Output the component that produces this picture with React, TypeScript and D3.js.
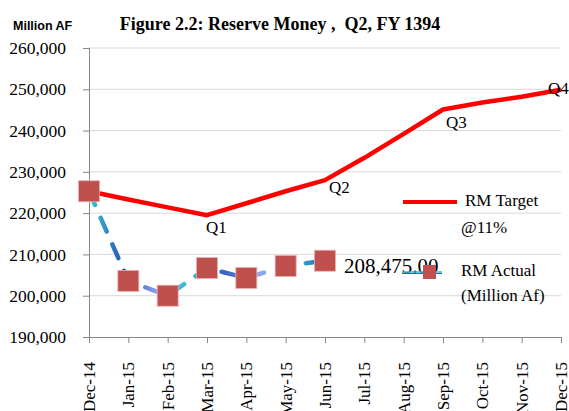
import React, { useEffect, useRef } from 'react';
import * as d3 from 'd3';

const months = ['Dec-14', 'Jan-15', 'Feb-15', 'Mar-15', 'Apr-15', 'May-15', 'Jun-15', 'Jul-15', 'Aug-15', 'Sep-15', 'Oct-15', 'Nov-15', 'Dec-15'];
const targetValues = [225300, 223300, 221400, 219500, 222400, 225300, 228000, 233400, 239200, 245100, 246800, 248200, 249900];
const actualValues = [225300, 203600, 200000, 206700, 204300, 207200, 208475];
const quarterLabels = ['Q1', 'Q2', 'Q3', 'Q4'];
const quarterMonths = ['Mar-15', 'Jun-15', 'Sep-15', 'Dec-15'];
const yTicks = [190000, 200000, 210000, 220000, 230000, 240000, 250000, 260000];

const SERIF = '"Liberation Serif", "Times New Roman", serif';
const SANS = '"Liberation Sans", Arial, sans-serif';

export default function App() {
  const ref = useRef<SVGSVGElement>(null);

  useEffect(() => {
    const svg = d3.select(ref.current);
    svg.selectAll('*').remove();

    const x = d3.scalePoint<string>().domain(months).range([89, 561]);
    const y = d3.scaleLinear().domain([190000, 260000]).range([337, 48]);

    // gradient for the dashed actual line
    const defs = svg.append('defs');
    const grad = defs.append('linearGradient').attr('id', 'actGrad')
      .attr('gradientUnits', 'userSpaceOnUse')
      .attr('x1', 89).attr('x2', 326).attr('y1', 0).attr('y2', 0);
    const gc = ['#37c8d6', '#2a55b0', '#8c9cf0', '#2bc0d0', '#3a5fc0', '#93a3f0', '#30c4d4', '#2f5ab8'];
    gc.forEach((c, i) => grad.append('stop').attr('offset', i / (gc.length - 1)).attr('stop-color', c));

    // gridlines
    svg.append('g').selectAll('line').data(yTicks.slice(1)).join('line')
      .attr('x1', 89).attr('x2', 561)
      .attr('y1', d => y(d)).attr('y2', d => y(d))
      .attr('stroke', '#d9d9d9').attr('stroke-width', 1);

    // y axis
    const yAxis = svg.append('g').attr('transform', 'translate(89,0)')
      .call(d3.axisLeft(y).tickValues(yTicks).tickSize(6).tickFormat(d => d3.format(',')(d as number)));
    yAxis.attr('font-family', null);
    yAxis.select('.domain').attr('stroke', '#868686');
    yAxis.selectAll('.tick line').attr('stroke', '#868686');
    yAxis.selectAll('.tick text').style('font-family', SERIF).style('font-size', '17.5px').attr('fill', '#000').attr('x', -23);

    // x axis
    const xAxis = svg.append('g').attr('transform', 'translate(0,337)')
      .call(d3.axisBottom(x).tickSize(6).tickSizeOuter(0));
    xAxis.attr('font-family', null);
    xAxis.select('.domain').attr('stroke', '#868686');
    xAxis.selectAll('.tick line').attr('stroke', '#868686');
    xAxis.selectAll('.tick text')
      .style('font-family', SERIF).style('font-size', '17px').attr('fill', '#000')
      .attr('transform', 'rotate(-90)')
      .attr('text-anchor', 'end')
      .attr('x', -25).attr('y', 0).attr('dy', '0.33em');

    // target line
    const line = d3.line<number>().x((_, i) => x(months[i])!).y(d => y(d));
    svg.append('path').datum(targetValues).attr('d', line)
      .attr('fill', 'none').attr('stroke', '#ff0000').attr('stroke-width', 4.5)
      .attr('stroke-linejoin', 'round');

    // actual dashed line
    svg.append('path').datum(actualValues).attr('d', line)
      .attr('fill', 'none').attr('stroke', 'url(#actGrad)').attr('stroke-width', 4.5)
      .attr('stroke-dasharray', '15 14').attr('stroke-linecap', 'round');

    // markers
    svg.append('g').selectAll('rect').data(actualValues).join('rect')
      .attr('x', (_, i) => x(months[i])! - 10.5).attr('y', d => y(d) - 10.5)
      .attr('width', 21).attr('height', 21)
      .attr('fill', '#c0504d').attr('stroke', '#e8b0ae').attr('stroke-width', 0.8);

    // quarter labels
    const qOff = [[-1, 18], [4, 13], [3, 18], [-13, 4]];
    svg.append('g').selectAll('text').data(quarterLabels).join('text')
      .attr('x', (_, i) => x(quarterMonths[i])! + qOff[i][0])
      .attr('y', (_, i) => y(targetValues[months.indexOf(quarterMonths[i])]) + qOff[i][1])
      .style('font-family', SERIF).style('font-size', '17px').attr('fill', '#000')
      .text(d => d);

    // last actual value label
    const last = actualValues.length - 1;
    svg.append('text')
      .attr('x', x(months[last])! + 19).attr('y', y(actualValues[last]) + 12)
      .style('font-family', SERIF).style('font-size', '21px').attr('fill', '#000')
      .text(d3.format(',.2f')(actualValues[last]));

    // legend
    const lg = svg.append('g').style('font-family', SERIF).style('font-size', '17px').attr('fill', '#000');
    lg.append('line').attr('x1', 403).attr('x2', 457).attr('y1', 202).attr('y2', 202)
      .attr('stroke', '#ff0000').attr('stroke-width', 4);
    lg.append('text').attr('x', 465).attr('y', 206).text('RM Target');
    lg.append('text').attr('x', 461).attr('y', 233).text('@11%');
    lg.append('line').attr('x1', 402).attr('x2', 442).attr('y1', 272).attr('y2', 272)
      .attr('stroke', '#2bc0d0').attr('stroke-width', 1.5);
    lg.append('line').attr('x1', 402).attr('x2', 442).attr('y1', 273.5).attr('y2', 273.5)
      .attr('stroke', '#3a5fc0').attr('stroke-width', 1.2);
    lg.append('rect').attr('x', 423).attr('y', 265).attr('width', 13).attr('height', 14).attr('fill', '#c0504d');
    lg.append('text').attr('x', 461).attr('y', 276).text('RM Actual');
    lg.append('text').attr('x', 461).attr('y', 301).text('(Million Af)');

    // titles
    svg.append('text').attr('x', 280).attr('y', 30).attr('text-anchor', 'middle')
      .style('font-family', SERIF).style('font-weight', 'bold').style('font-size', '18px')
      .style('white-space', 'pre')
      .text('Figure 2.2: Reserve Money ,  Q2, FY 1394');
    svg.append('text').attr('x', 13).attr('y', 29.5)
      .style('font-family', SANS).style('font-weight', 'bold').style('font-size', '12.5px')
      .text('Million AF');
  }, []);

  return (
    <svg ref={ref} width={569} height={411}
      style={{ position: 'absolute', left: 0, top: 0, background: '#fff' }} />
  );
}
